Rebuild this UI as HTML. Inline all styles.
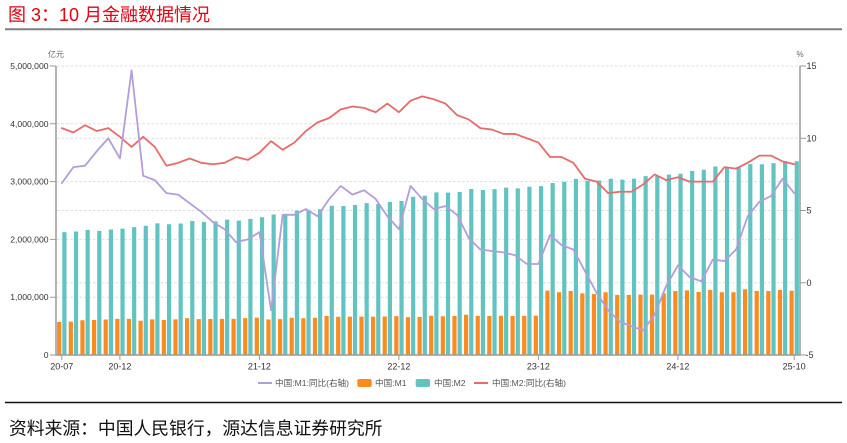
<!DOCTYPE html>
<html><head><meta charset="utf-8"><style>
html,body{margin:0;padding:0;background:#fff;}
svg{display:block;}
text{font-family:"Liberation Sans","Noto Sans CJK SC",sans-serif;}
</style></head><body>
<svg width="847" height="443" viewBox="0 0 847 443" xmlns="http://www.w3.org/2000/svg">
<rect width="847" height="443" fill="#fff"/>
<text x="8" y="21" font-size="18" fill="#e60012">图 3：10 月金融数据情况</text>
<line x1="5" y1="29.3" x2="842" y2="29.3" stroke="#7f7f7f" stroke-width="2"/>
<g stroke="#dedede" stroke-width="1" stroke-dasharray="2.5,2">
<line x1="57" y1="66" x2="800" y2="66"/>
<line x1="57" y1="123.8" x2="800" y2="123.8"/>
<line x1="57" y1="138.25" x2="800" y2="138.25"/>
<line x1="57" y1="181.6" x2="800" y2="181.6"/>
<line x1="57" y1="210.5" x2="800" y2="210.5"/>
<line x1="57" y1="239.4" x2="800" y2="239.4"/>
<line x1="57" y1="282.75" x2="800" y2="282.75"/>
<line x1="57" y1="297.2" x2="800" y2="297.2"/>
</g>
<g transform="matrix(11.625 0 0 -0.578 61.8125 355)">
<path fill="#f98b1f" d="M-0.404 0h.361v57.08h-.361z M0.596 0h.361v57.64h-.361z M1.596 0h.361v60.22h-.361z M2.596 0h.361v60.49h-.361z M3.596 0h.361v61.33h-.361z M4.596 0h.361v62.56h-.361z M5.596 0h.361v62.56h-.361z M6.596 0h.361v59.35h-.361z M7.596 0h.361v61.64h-.361z M8.596 0h.361v60.54h-.361z M9.596 0h.361v61.68h-.361z M10.596 0h.361v63.75h-.361z M11.596 0h.361v62.06h-.361z M12.596 0h.361v62.35h-.361z M13.596 0h.361v62.46h-.361z M14.596 0h.361v62.66h-.361z M15.596 0h.361v63.74h-.361z M16.596 0h.361v64.74h-.361z M17.596 0h.361v61.35h-.361z M18.596 0h.361v62.16h-.361z M19.596 0h.361v64.51h-.361z M20.596 0h.361v63.61h-.361z M21.596 0h.361v64.49h-.361z M22.596 0h.361v67.44h-.361z M23.596 0h.361v66.15h-.361z M24.596 0h.361v66.47h-.361z M25.596 0h.361v66.45h-.361z M26.596 0h.361v66.25h-.361z M27.596 0h.361v66.71h-.361z M28.596 0h.361v67.17h-.361z M29.596 0h.361v65.52h-.361z M30.596 0h.361v65.75h-.361z M31.596 0h.361v67.83h-.361z M32.596 0h.361v66.99h-.361z M33.596 0h.361v67.54h-.361z M34.596 0h.361v69.56h-.361z M35.596 0h.361v67.67h-.361z M36.596 0h.361v67.66h-.361z M37.596 0h.361v67.8h-.361z M38.596 0h.361v67.47h-.361z M39.596 0h.361v67.67h-.361z M40.596 0h.361v68.05h-.361z M41.596 0h.361v111.3h-.361z M42.596 0h.361v108.5h-.361z M43.596 0h.361v110.7h-.361z M44.596 0h.361v106.7h-.361z M45.596 0h.361v105.5h-.361z M46.596 0h.361v108.5h-.361z M47.596 0h.361v104h-.361z M48.596 0h.361v104h-.361z M49.596 0h.361v104.5h-.361z M50.596 0h.361v104.5h-.361z M51.596 0h.361v106.7h-.361z M52.596 0h.361v110.7h-.361z M53.596 0h.361v111.9h-.361z M54.596 0h.361v109h-.361z M55.596 0h.361v112.5h-.361z M56.596 0h.361v108.5h-.361z M57.596 0h.361v108.5h-.361z M58.596 0h.361v113.7h-.361z M59.596 0h.361v110.7h-.361z M60.596 0h.361v110.7h-.361z M61.596 0h.361v112.5h-.361z M62.596 0h.361v111.2h-.361z"/>
<path fill="#62c4c2" d="M0.043 0h.361v212.55h-.361z M1.043 0h.361v213.68h-.361z M2.043 0h.361v216.41h-.361z M3.043 0h.361v214.71h-.361z M4.043 0h.361v217.2h-.361z M5.043 0h.361v218.68h-.361z M6.043 0h.361v221.3h-.361z M7.043 0h.361v223.6h-.361z M8.043 0h.361v227.65h-.361z M9.043 0h.361v226.21h-.361z M10.043 0h.361v227.55h-.361z M11.043 0h.361v231.78h-.361z M12.043 0h.361v230.22h-.361z M13.043 0h.361v231.22h-.361z M14.043 0h.361v234.28h-.361z M15.043 0h.361v232.56h-.361z M16.043 0h.361v235.6h-.361z M17.043 0h.361v238.29h-.361z M18.043 0h.361v243.1h-.361z M19.043 0h.361v244.15h-.361z M20.043 0h.361v249.77h-.361z M21.043 0h.361v249.97h-.361z M22.043 0h.361v252.15h-.361z M23.043 0h.361v258.15h-.361z M24.043 0h.361v257.81h-.361z M25.043 0h.361v259.51h-.361z M26.043 0h.361v262.66h-.361z M27.043 0h.361v261.21h-.361z M28.043 0h.361v264.7h-.361z M29.043 0h.361v266.43h-.361z M30.043 0h.361v273.81h-.361z M31.043 0h.361v275.52h-.361z M32.043 0h.361v281.46h-.361z M33.043 0h.361v280.85h-.361z M34.043 0h.361v282.05h-.361z M35.043 0h.361v287.3h-.361z M36.043 0h.361v285.37h-.361z M37.043 0h.361v286.93h-.361z M38.043 0h.361v289.67h-.361z M39.043 0h.361v288.23h-.361z M40.043 0h.361v291.03h-.361z M41.043 0h.361v292.27h-.361z M42.043 0h.361v297.63h-.361z M43.043 0h.361v299.56h-.361z M44.043 0h.361v304.8h-.361z M45.043 0h.361v301.19h-.361z M46.043 0h.361v301.85h-.361z M47.043 0h.361v305.02h-.361z M48.043 0h.361v303.31h-.361z M49.043 0h.361v305.05h-.361z M50.043 0h.361v309.48h-.361z M51.043 0h.361v309.71h-.361z M52.043 0h.361v311.96h-.361z M53.043 0h.361v313.53h-.361z M54.043 0h.361v318.52h-.361z M55.043 0h.361v320.52h-.361z M56.043 0h.361v326.06h-.361z M57.043 0h.361v325.17h-.361z M58.043 0h.361v325.78h-.361z M59.043 0h.361v330.29h-.361z M60.043 0h.361v329.94h-.361z M61.043 0h.361v331.98h-.361z M62.043 0h.361v335.38h-.361z M63.043 0h.361v335.13h-.361z"/>
</g>
<g transform="matrix(11.625 0 0 -14.45 61.8125 282.75)" fill="none" stroke-linejoin="round" stroke-linecap="round">
<polyline vector-effect="non-scaling-stroke" stroke="#e86b6b" stroke-width="1.8" points="0,10.7 1,10.4 2,10.9 3,10.5 4,10.7 5,10.1 6,9.4 7,10.1 8,9.4 9,8.1 10,8.3 11,8.6 12,8.3 13,8.2 14,8.3 15,8.7 16,8.5 17,9 18,9.8 19,9.2 20,9.7 21,10.5 22,11.1 23,11.4 24,12 25,12.2 26,12.1 27,11.8 28,12.4 29,11.8 30,12.6 31,12.9 32,12.7 33,12.4 34,11.6 35,11.3 36,10.7 37,10.6 38,10.3 39,10.3 40,10 41,9.7 42,8.7 43,8.7 44,8.3 45,7.2 46,7 47,6.2 48,6.3 49,6.3 50,6.8 51,7.5 52,7.1 53,7.3 54,7 55,7 56,7 57,8 58,7.9 59,8.3 60,8.8 61,8.8 62,8.4 63,8.2"/>
<polyline vector-effect="non-scaling-stroke" stroke="#b39ddb" stroke-width="1.8" points="0,6.9 1,8 2,8.1 3,9.1 4,10 5,8.6 6,14.7 7,7.4 8,7.1 9,6.2 10,6.1 11,5.5 12,4.9 13,4.2 14,3.7 15,2.8 16,3 17,3.5 18,-1.9 19,4.7 20,4.7 21,5.1 22,4.6 23,5.8 24,6.7 25,6.1 26,6.4 27,5.8 28,4.6 29,3.7 30,6.7 31,5.8 32,5.1 33,5.3 34,4.7 35,3.1 36,2.3 37,2.2 38,2.1 39,1.9 40,1.3 41,1.3 42,3.3 43,2.6 44,2.3 45,0.8 46,-0.7 47,-1.9 48,-2.7 49,-3 50,-3.3 51,-2.2 52,-0.2 53,1.2 54,0.4 55,0.1 56,1.6 57,1.5 58,2.3 59,4.6 60,5.6 61,6 62,7.2 63,6.2"/>
</g>
<g stroke="#9a9a9a" stroke-width="1.5" fill="none">
<line x1="56" y1="66" x2="56" y2="355.5"/>
<line x1="800" y1="66" x2="800" y2="355.5"/>
<line x1="55.5" y1="355" x2="800.5" y2="355"/>
</g>
<path stroke="#9a9a9a" stroke-width="1" fill="none" d="M50 66H56M50 123.8H56M50 181.6H56M50 239.4H56M50 297.2H56M50 355H56M800 66H806M800 138.25H806M800 210.5H806M800 282.75H806M800 355H806M61.8 355V360M119.9 355V360M259.4 355V360M398.9 355V360M538.4 355V360M677.9 355V360M794.2 355V360"/>
<g font-size="8.6" fill="#333" text-anchor="end">
<text x="48.5" y="69">5,000,000</text>
<text x="48.5" y="126.8">4,000,000</text>
<text x="48.5" y="184.6">3,000,000</text>
<text x="48.5" y="242.4">2,000,000</text>
<text x="48.5" y="300.2">1,000,000</text>
<text x="48.5" y="358">0</text>
</g>
<g font-size="9" fill="#333">
<text x="806.5" y="69">15</text>
<text x="806.5" y="141.3">10</text>
<text x="806.5" y="213.5">5</text>
<text x="806.5" y="285.8">0</text>
<text x="805.5" y="358">-5</text>
</g>
<g font-size="9" fill="#333" text-anchor="middle">
<text x="61.8" y="369.5">20-07</text>
<text x="119.9" y="369.5">20-12</text>
<text x="259.4" y="369.5">21-12</text>
<text x="398.9" y="369.5">22-12</text>
<text x="538.4" y="369.5">23-12</text>
<text x="677.9" y="369.5">24-12</text>
<text x="794.2" y="369.5">25-10</text>
</g>
<text x="56" y="57" font-size="8" fill="#666" text-anchor="middle">亿元</text>
<text x="800" y="57" font-size="8" fill="#666" text-anchor="middle">%</text>
<line x1="258" y1="383" x2="272" y2="383" stroke="#b39ddb" stroke-width="2"/>
<text x="275" y="386" font-size="8.6" fill="#555">中国:M1:同比(右轴)</text>
<rect x="357.3" y="379" width="14.4" height="8" rx="2" fill="#f98b1f"/>
<text x="375" y="386" font-size="8.6" fill="#555">中国:M1</text>
<rect x="415.7" y="379" width="14.4" height="8" rx="2" fill="#62c4c2"/>
<text x="434" y="386" font-size="8.6" fill="#555">中国:M2</text>
<line x1="474" y1="383" x2="488" y2="383" stroke="#e86b6b" stroke-width="2"/>
<text x="492" y="386" font-size="8.6" fill="#555">中国:M2:同比(右轴)</text>
<line x1="5" y1="402.5" x2="842" y2="402.5" stroke="#111" stroke-width="1.5"/>
<text x="9" y="434.5" font-size="17.8" fill="#111">资料来源：中国人民银行，源达信息证券研究所</text>
</svg>
</body></html>
